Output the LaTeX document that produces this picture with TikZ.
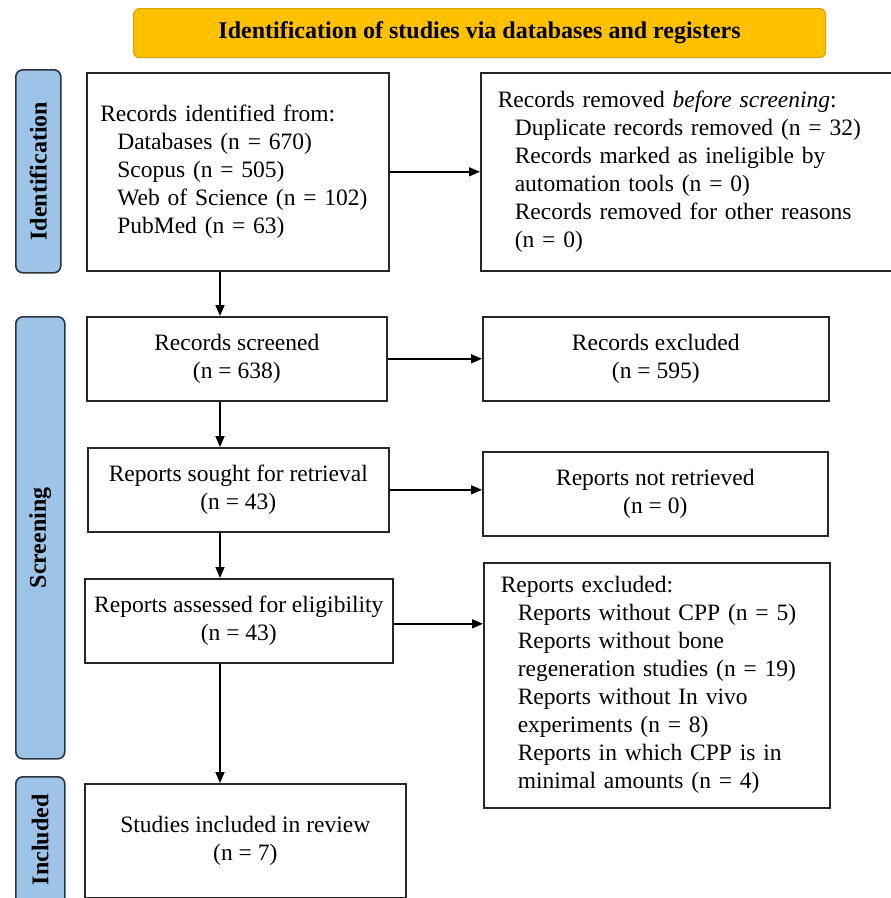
\documentclass[tikz,border=0pt]{standalone}
\usepackage{fontspec}
\setmainfont{Liberation Serif}
\usetikzlibrary{arrows.meta}
\definecolor{headgold}{HTML}{FFC000}
\definecolor{headedge}{HTML}{D9A300}
\definecolor{barblue}{HTML}{9DC3E6}
\definecolor{baredge}{HTML}{2B3440}
\tikzstyle{header} = [rectangle, rounded corners=6pt, draw=headedge, line width=1.2pt, fill=headgold, anchor=north west, inner sep=0pt, font=\bfseries\fontsize{24}{28}\selectfont]
\tikzstyle{phase} = [rectangle, rounded corners=7pt, draw=baredge, line width=1.6pt, fill=barblue, anchor=north west, inner sep=0pt]
\tikzstyle{phaselabel} = [rotate=90, font=\bfseries\fontsize{24}{28}\selectfont]
\tikzstyle{process} = [rectangle, draw=black!85, line width=1.6pt, anchor=north west, inner sep=0pt, align=center, font=\fontsize{23.5}{28}\selectfont]
\tikzstyle{listbox} = [rectangle, draw=black!85, line width=1.6pt, anchor=north west, inner ysep=0pt, align=left, font=\fontsize{23.5}{28}\selectfont]
\tikzstyle{arrow} = [line width=1.6pt,->,>={Triangle[length=11pt,width=9pt]}]
\newcommand{\sub}{\hspace*{17pt}}

\begin{document}
\begin{tikzpicture}[x=1pt, y=-1pt]
\useasboundingbox (0,0) rectangle (891,898);

\node (head) [header, minimum width=692pt, minimum height=49pt] at (133,8) {Identification of studies via databases and registers};

% phase bars on the left
\node (barid) [phase, minimum width=45pt, minimum height=203pt] at (15,69) {};
\node [phaselabel] at (barid.center) {Identification};
\node (barscr) [phase, minimum width=49pt, minimum height=442pt] at (15,316) {};
\node [phaselabel] at (barscr.center) {Screening};
\node (barinc) [phase, minimum width=49pt, minimum height=140pt] at (15,776) {};
\node [phaselabel] at ([yshift=7pt]barinc.center) {Included};

% identification
\node (ident) [listbox, inner xsep=13.5pt, text width=275pt, minimum width=302pt, minimum height=198pt] at (86,72) {Records identified from:\\
\sub Databases (n = 670)\\
\sub Scopus (n = 505)\\
\sub Web of Science (n = 102)\\
\sub PubMed (n = 63)};
\node (removed) [listbox, inner xsep=17pt, text width=381pt, minimum width=415pt, minimum height=198pt] at (480,72) {Records removed \textit{before screening}:\\
\sub Duplicate records removed (n = 32)\\
\sub Records marked as ineligible by\\
\sub automation tools (n = 0)\\
\sub Records removed for other reasons\\
\sub (n = 0)};

% screening
\node (screened) [process, minimum width=300pt, minimum height=84pt] at (86,316) {Records screened\\(n = 638)};
\node (recexcl) [process, minimum width=346pt, minimum height=84pt] at (482,316) {Records excluded\\(n = 595)};
\node (sought) [process, minimum width=301pt, minimum height=84pt] at (87,447) {Reports sought for retrieval\\(n = 43)};
\node (notret) [process, minimum width=345pt, minimum height=84pt] at (482,451) {Reports not retrieved\\(n = 0)};
\node (assessed) [process, minimum width=308pt, minimum height=84pt] at (84,578) {Reports assessed for eligibility\\(n = 43)};
\node (repexcl) [listbox, inner xsep=17pt, text width=312pt, minimum width=346pt, minimum height=245pt] at (483,562) {Reports excluded:\\
\sub Reports without CPP (n = 5)\\
\sub Reports without bone\\
\sub regeneration studies (n = 19)\\
\sub Reports without In vivo\\
\sub experiments (n = 8)\\
\sub Reports in which CPP is in\\
\sub minimal amounts (n = 4)};

% included
\node (studies) [process, minimum width=321pt, minimum height=114pt] at (84,783) {Studies included in review\\(n = 7)};

\coordinate (spine) at (220,0);

\draw [arrow] (ident) -- (removed);
\draw [arrow] (ident.south -| spine) -- (screened.north -| spine);
\draw [arrow] (screened) -- (recexcl);
\draw [arrow] (screened.south -| spine) -- (sought.north -| spine);
\draw [arrow] (sought.east) -- (sought.east -| notret.west);
\draw [arrow] (sought.south -| spine) -- (assessed.north -| spine);
\draw [arrow] ([yshift=-3pt]assessed.east) -- ([yshift=-3pt]assessed.east -| repexcl.west);
\draw [arrow] (assessed.south -| spine) -- (studies.north -| spine);

\end{tikzpicture}
\end{document}
